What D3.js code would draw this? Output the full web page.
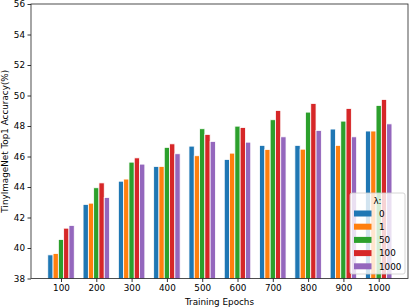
<!DOCTYPE html>
<html>
<head>
<meta charset="utf-8">
<script src="https://cdn.jsdelivr.net/npm/d3@7"></script>
<style>
	body { margin: 0; background: #fff; }
	svg { display: block; font-family: "DejaVu Sans", sans-serif; }
</style>
</head>
<body>
<svg id="chart" width="411" height="308"></svg>
<script>
// data
var epochs = ["100", "200", "300", "400", "500", "600", "700", "800", "900", "1000"];
var lambdas = ["0", "1", "50", "100", "1000"];
var acc_0    = [39.55, 42.86, 44.38, 45.35, 46.68, 45.81, 46.73, 46.73, 47.80, 47.67];
var acc_1    = [39.64, 42.94, 44.52, 45.35, 46.05, 46.22, 46.46, 46.48, 46.73, 47.67];
var acc_50   = [40.56, 43.95, 45.63, 46.60, 47.82, 47.99, 48.41, 48.91, 48.32, 49.35];
var acc_100  = [41.30, 44.27, 45.91, 46.83, 47.45, 47.90, 49.02, 49.48, 49.15, 49.74];
var acc_1000 = [41.48, 43.31, 45.50, 46.18, 46.99, 46.94, 47.29, 47.71, 47.29, 48.14];
var yTicks = [38, 40, 42, 44, 46, 48, 50, 52, 54, 56];
var colors = ["#1f77b4", "#ff7f0e", "#2ca02c", "#d62728", "#9467bd"];

var series = [acc_0, acc_1, acc_50, acc_100, acc_1000];

function draw() {
	var svg = d3.select("#chart"),
		pLeft = 31, pRight = 408, pTop = 4, pBottom = 278.5,
		fontSize = 8.8;

	var x = d3.scaleLinear().domain([-0.85, 9.83]).range([pLeft, pRight]);
	var y = d3.scaleLinear().domain([38, 56]).range([pBottom, pTop]);
	var barW = 0.15;

	svg.append("defs").append("clipPath").attr("id", "clip")
		.append("rect").attr("x", pLeft).attr("y", pTop).attr("width", pRight - pLeft).attr("height", pBottom - pTop);

	var bars = svg.append("g").attr("clip-path", "url(#clip)");
	series.forEach(function (vals, s) {
		bars.selectAll(null)
			.data(vals)
			.enter().append("rect")
			.attr("x", function (d, i) { return x(i + (s - 2.5) * barW); })
			.attr("y", function (d) { return y(d); })
			.attr("width", x(barW) - x(0))
			.attr("height", function (d) { return y(38) - y(d) + 2; })
			.attr("fill", colors[s])
			.attr("stroke", "#fff")
			.attr("stroke-width", 0.8);
	});

	// axes
	var xAxis = svg.append("g")
		.attr("transform", "translate(0," + pBottom + ")")
		.call(d3.axisBottom(x).tickValues(d3.range(epochs.length))
			.tickFormat(function (i) { return epochs[i]; }).tickSize(3.5).tickPadding(2.5));
	var yAxis = svg.append("g")
		.attr("transform", "translate(" + pLeft + ",0)")
		.call(d3.axisLeft(y).tickValues(yTicks).tickFormat(d3.format("d")).tickSize(3.5).tickPadding(2.5));

	[xAxis, yAxis].forEach(function (a) {
		a.select(".domain").remove();
		a.selectAll("text").attr("font-size", fontSize).attr("font-family", "DejaVu Sans").attr("fill", "#000");
		a.selectAll("line").attr("stroke", "#000").attr("stroke-width", 0.8);
	});

	// frame
	svg.append("rect")
		.attr("x", pLeft).attr("y", pTop)
		.attr("width", pRight - pLeft).attr("height", pBottom - pTop)
		.attr("fill", "none").attr("stroke", "#222").attr("stroke-width", 0.8);

	// axis labels
	svg.append("text")
		.attr("x", (pLeft + pRight) / 2).attr("y", 305)
		.attr("text-anchor", "middle").attr("font-size", fontSize)
		.text("Training Epochs");
	svg.append("text")
		.attr("transform", "translate(7.5," + ((pTop + pBottom) / 2) + ") rotate(-90)")
		.attr("text-anchor", "middle").attr("font-size", fontSize)
		.text("TinyImageNet Top1 Accuracy(%)");

	// legend
	var lg = svg.append("g").attr("transform", "translate(350,193)");
	lg.append("rect")
		.attr("width", 55).attr("height", 81).attr("rx", 2)
		.attr("fill", "#fff").attr("fill-opacity", 0.8)
		.attr("stroke", "#ccc").attr("stroke-width", 0.8);
	lg.append("text")
		.attr("x", 27.5).attr("y", 11)
		.attr("text-anchor", "middle").attr("font-size", fontSize)
		.text("λ:");
	lambdas.forEach(function (l, i) {
		var cy = 20.5 + i * 13.2;
		lg.append("rect")
			.attr("x", 4).attr("y", cy - 3).attr("width", 17.5).attr("height", 6)
			.attr("fill", colors[i]);
		lg.append("text")
			.attr("x", 29).attr("y", cy + 3.2)
			.attr("font-size", fontSize)
			.text(l);
	});
}

draw();
</script>
</body>
</html>
